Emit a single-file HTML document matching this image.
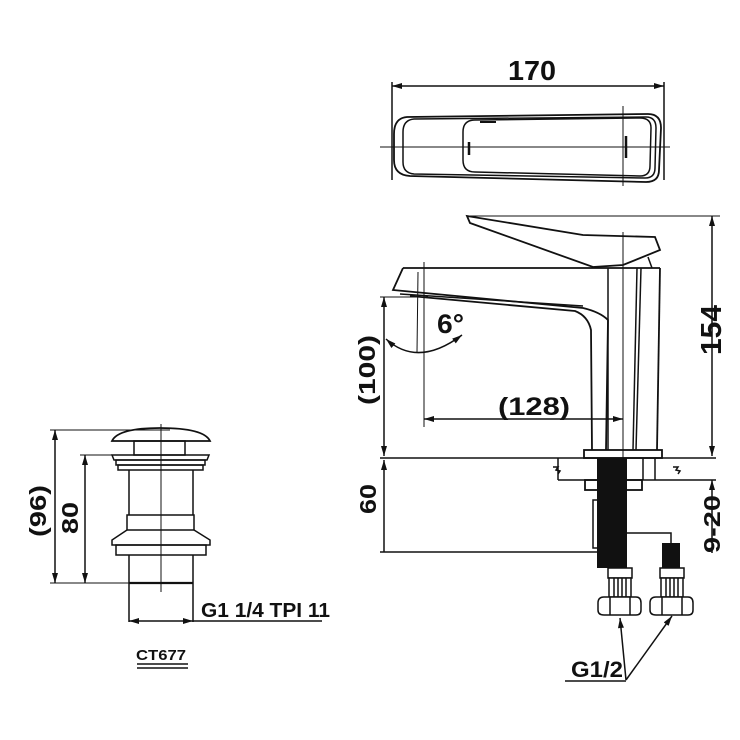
<!DOCTYPE html>
<html><head><style>html,body{margin:0;padding:0;background:#fff}svg{display:block}
text{font-family:"Liberation Sans",sans-serif;font-weight:bold;fill:#111}</style></head>
<body>
<svg width="740" height="740" viewBox="0 0 740 740" xmlns="http://www.w3.org/2000/svg">
<defs>
<marker id="a" viewBox="0 0 10 6" refX="10" refY="3" markerWidth="11" markerHeight="6" orient="auto-start-reverse" markerUnits="userSpaceOnUse"><path d="M0,0L10,3L0,6z" fill="#111"/></marker>
</defs>
<g stroke="#111" fill="none" stroke-width="1.5">
<line x1="392" y1="82" x2="392" y2="180"/>
<line x1="664" y1="82" x2="664" y2="180"/>
<line x1="392" y1="86" x2="664" y2="86" marker-start="url(#a)" marker-end="url(#a)"/>
<path d="M407,117 L648,114 Q661,114 661,128 L659,170 Q659,182 646,182 L410,176 Q394,175 394,160 L394,134 Q394,118 407,117Z" stroke-width="1.8"/>
<path d="M414,119 L646,117 Q656,117 656,128 L655,168 Q655,178 645,178 L414,174 Q403,173 403,162 L403,132 Q403,120 414,119Z"/>
<path d="M475,120 L640,118 Q651,118 651,128 L650,166 Q650,176 640,176 L475,172 Q463,172 463,160 L463,132 Q463,120 475,120Z"/>
<line x1="380" y1="147" x2="670" y2="147" stroke-width="1"/>
<line x1="623" y1="106" x2="623" y2="186" stroke-width="1"/>
<line x1="480" y1="122" x2="496" y2="122" stroke-width="2"/>
<line x1="469" y1="142" x2="469" y2="155" stroke-width="2.5"/>
<line x1="626" y1="136" x2="626" y2="158" stroke-width="2.5"/>

<line x1="470" y1="216" x2="720" y2="216" stroke-width="1"/>
<path d="M467,216 L583,235 L655,237 L660,250 L623,265 L593,267 L470,223 Z" stroke-width="1.8"/>
<path d="M648,257 L652,268" />
<path d="M403,268 L660,268" stroke-width="1.8"/>
<path d="M403,268 L393,290 L583,308 Q600,312 608,320 L606,450" stroke-width="1.8"/>
<path d="M400,294 L583,306"/>
<path d="M410,296 L575,311 Q588,316 591,330 L592,450" stroke-width="1.8"/>
<line x1="608" y1="268" x2="608" y2="450"/>
<line x1="637" y1="268" x2="633" y2="450"/>
<line x1="641" y1="268" x2="636" y2="450"/>
<line x1="660" y1="268" x2="657" y2="450" stroke-width="1.8"/>
<line x1="623" y1="232" x2="623" y2="470" stroke-width="1"/>
<rect x="584" y="450" width="78" height="8" stroke-width="1.8"/>
<line x1="380" y1="458" x2="716" y2="458"/>
<line x1="380" y1="297" x2="428" y2="297" stroke-width="1"/>
<line x1="424" y1="262" x2="424" y2="427" stroke-width="1"/>
<path d="M418,272 L417,352" stroke-width="1"/>
<path d="M386,339 Q418,368 462,335" marker-start="url(#a)" marker-end="url(#a)"/>
<line x1="384" y1="297" x2="384" y2="456" marker-start="url(#a)" marker-end="url(#a)"/>
<line x1="384" y1="460" x2="384" y2="552" marker-start="url(#a)"/>
<line x1="380" y1="552" x2="600" y2="552"/>
<line x1="424" y1="419" x2="623" y2="419" marker-start="url(#a)" marker-end="url(#a)"/>
<line x1="712" y1="216" x2="712" y2="456" marker-start="url(#a)" marker-end="url(#a)"/>
<line x1="712" y1="480" x2="712" y2="553" marker-start="url(#a)"/>
<line x1="558" y1="480" x2="716" y2="480"/>
<line x1="558" y1="458" x2="558" y2="480"/>
<path d="M553,467 L558,467 L556,470 L560,471 L558,474" />
<path d="M673,467 L678,467 L676,470 L680,471 L678,474" />
<line x1="643" y1="458" x2="643" y2="480"/>
<line x1="655" y1="458" x2="655" y2="480"/>
<rect x="585" y="480" width="57" height="10" stroke-width="1.8"/>
<rect x="593" y="500" width="17" height="48"/>
<line x1="598" y1="500" x2="598" y2="548"/><line x1="603" y1="500" x2="603" y2="548"/>
<path d="M627,533 L671,533 L671,543"/>
</g>
<g fill="#111">
<rect x="597" y="458" width="30" height="110"/>
<rect x="662" y="543" width="18" height="25"/>
</g>
<g stroke="#111" fill="#fff" stroke-width="1.5">
<rect x="608" y="568" width="24" height="10"/>
<rect x="660" y="568" width="24" height="10"/>
<rect x="609" y="578" width="22" height="19"/>
<rect x="661" y="578" width="22" height="19"/>
<path d="M614,578v19M618,578v19M622,578v19M626,578v19M666,578v19M670,578v19M674,578v19M678,578v19" fill="none"/>
<path d="M604,597 L636,597 Q641,597 641,603 L641,610 Q641,615 636,615 L604,615 Q598,615 598,610 L598,603 Q598,597 604,597Z"/>
<path d="M656,597 L688,597 Q693,597 693,603 L693,610 Q693,615 688,615 L656,615 Q650,615 650,610 L650,603 Q650,597 656,597Z"/>
<path d="M610,597v18M630,597v18M662,597v18M682,597v18" fill="none"/>
</g>
<g stroke="#111" fill="none" stroke-width="1.5">
<line x1="626" y1="680" x2="620" y2="618" marker-end="url(#a)"/>
<line x1="626" y1="680" x2="672" y2="616" marker-end="url(#a)"/>
<line x1="565" y1="681" x2="626" y2="681"/>

<path d="M112,441 Q118,428 160,428 Q204,428 210,441 Z" stroke-width="1.8"/>
<rect x="134" y="441" width="51" height="14"/>
<path d="M112,455 L209,455 L207,460 L114,460 Z"/>
<path d="M116,460 L205,460 L205,465 L116,465Z"/>
<path d="M118,465 L203,465 L203,470 L118,470Z"/>
<line x1="129" y1="470" x2="129" y2="515"/><line x1="193" y1="470" x2="193" y2="515"/>
<rect x="127" y="515" width="67" height="15"/>
<path d="M127,530 L112,540 L112,545 L210,545 L210,540 L194,530"/>
<rect x="116" y="545" width="90" height="10"/>
<line x1="129" y1="555" x2="129" y2="622"/><line x1="193" y1="555" x2="193" y2="622"/>
<line x1="129" y1="583" x2="193" y2="583" stroke-width="2.2"/>
<line x1="161" y1="424" x2="161" y2="592" stroke-width="1"/>
<line x1="50" y1="430" x2="170" y2="430" stroke-width="1"/>
<line x1="80" y1="455" x2="115" y2="455" stroke-width="1"/>
<line x1="50" y1="583" x2="130" y2="583" stroke-width="1"/>
<line x1="55" y1="430" x2="55" y2="583" marker-start="url(#a)" marker-end="url(#a)"/>
<line x1="85" y1="455" x2="85" y2="583" marker-start="url(#a)" marker-end="url(#a)"/>
<line x1="129" y1="621" x2="193" y2="621" marker-start="url(#a)" marker-end="url(#a)"/>
<line x1="193" y1="621" x2="322" y2="621"/>
<line x1="137" y1="664" x2="188" y2="664"/>
<line x1="137" y1="668" x2="188" y2="668"/>
</g>
<g lengthAdjust="spacingAndGlyphs">
<text x="508" y="80" font-size="28" textLength="48" lengthAdjust="spacingAndGlyphs">170</text>
<text x="437" y="333" font-size="27" textLength="27" lengthAdjust="spacingAndGlyphs">6°</text>
<text x="498" y="415" font-size="25" textLength="72" lengthAdjust="spacingAndGlyphs">(128)</text>
<text transform="translate(721,355) rotate(-90)" font-size="29" textLength="50" lengthAdjust="spacingAndGlyphs">154</text>
<text transform="translate(375,405) rotate(-90)" font-size="23" textLength="70" lengthAdjust="spacingAndGlyphs">(100)</text>
<text transform="translate(376,514) rotate(-90)" font-size="23" textLength="30" lengthAdjust="spacingAndGlyphs">60</text>
<text transform="translate(720,553) rotate(-90)" font-size="23" textLength="58" lengthAdjust="spacingAndGlyphs">9-20</text>
<text x="571" y="677" font-size="22" textLength="52" lengthAdjust="spacingAndGlyphs">G1/2</text>
<text transform="translate(46,537) rotate(-90)" font-size="23" textLength="52" lengthAdjust="spacingAndGlyphs">(96)</text>
<text transform="translate(78,534) rotate(-90)" font-size="23" textLength="32" lengthAdjust="spacingAndGlyphs">80</text>
<text x="201" y="617" font-size="20" textLength="129" lengthAdjust="spacingAndGlyphs">G1 1/4 TPI 11</text>
<text x="136" y="660" font-size="15" textLength="50" lengthAdjust="spacingAndGlyphs">CT677</text>
</g>
</svg>
</body></html>
